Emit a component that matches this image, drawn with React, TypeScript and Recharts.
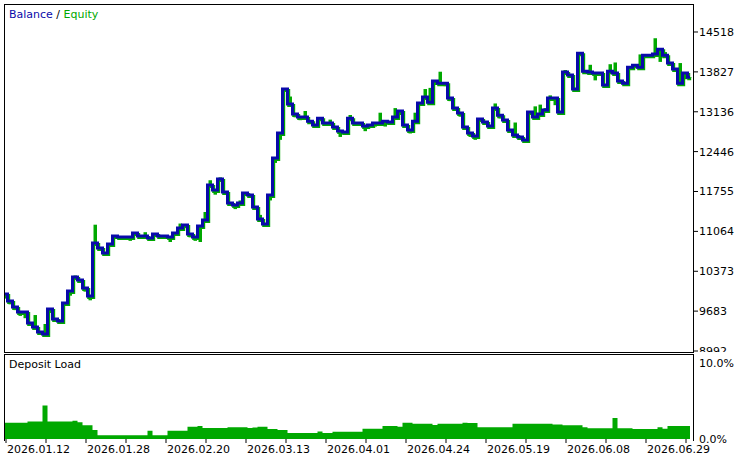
import React from 'react';
import { ComposedChart, Line, Bar, XAxis, YAxis, AreaChart, Area } from 'recharts';

const balance = [
  9979, 9858, 9754, 9667, 9667, 9477, 9408, 9321, 9286, 9719,
  9546, 9511, 9823, 10031, 10273, 10221, 10083, 9944, 10862, 10775,
  10689, 10845, 10983, 10966, 10966, 10966, 11035, 10983, 10983, 10949,
  11018, 10983, 10983, 10966, 11035, 11122, 11174, 11018, 10966, 11156,
  11260, 11866, 11780, 11970, 11745, 11555, 11520, 11555, 11728, 11693,
  11485, 11278, 11191, 11693, 12334, 12767, 13529, 13269, 13096, 13044,
  13044, 12974, 12905, 13026, 12940, 12940, 12871, 12801, 12784, 13026,
  12940, 12940, 12888, 12905, 12940, 12940, 12974, 12957, 13044, 13148,
  12905, 12819, 12974, 13286, 13390, 13303, 13667, 13632, 13632, 13373,
  13200, 13113, 12871, 12767, 12715, 13009, 12957, 12888, 13200, 13078,
  12992, 12819, 12732, 12697, 12645, 13130, 13044, 13096, 13165, 13373,
  13373, 13130, 13823, 13771, 13529, 14152, 13840, 13823, 13806, 13806,
  13598, 13840, 13806, 13667, 13632, 13909, 13944, 13909, 14117, 14117,
  14135, 14221, 14117, 13979, 13875, 13632, 13806, 13736,
];

const equity = [
  9900, 9800, 9700, 9600, 9560, 9440, 9615, 9290, 9460, 9650,
  9500, 9470, 9780, 9950, 10300, 10180, 10020, 9870, 11180, 10740,
  10640, 10800, 10960, 10966, 10940, 10900, 11000, 10960, 11050, 10900,
  11000, 11000, 10960, 10880, 11010, 11200, 11120, 10960, 10900, 10880,
  11400, 11950, 11700, 12000, 11700, 11520, 11450, 11600, 11700, 11650,
  11450, 11350, 11170, 11600, 12250, 12650, 13500, 13400, 13040, 12990,
  13150, 12960, 12880, 12990, 12900, 13000, 12850, 12700, 12760, 13080,
  12920, 12900, 12800, 12880, 12880, 13120, 12880, 12930, 13200, 13080,
  12870, 12760, 13120, 13250, 13530, 13550, 13600, 13830, 13580, 13320,
  13180, 13050, 12840, 12700, 12650, 12980, 12920, 12860, 13280, 13020,
  12960, 12780, 12950, 12680, 12620, 13100, 13230, 13260, 13200, 13420,
  13250, 13080, 13860, 13730, 13500, 14170, 13800, 13950, 13680, 13770,
  13560, 13960, 13990, 13640, 13610, 13880, 13900, 14130, 14080, 14100,
  14410, 14000, 14170, 13950, 13840, 13980, 13700, 13730,
];

const depositLoad = [
  2.15, 2.15, 2.15, 2.15, 2.15, 2.3, 2.3, 2.3, 4.4, 2.3,
  2.3, 2.3, 2.3, 2.3, 2.4, 2.2, 1.8, 1.8, 1.2, 0.5,
  0.5, 0.5, 0.5, 0.5, 0.5, 0.5, 0.5, 0.5, 0.5, 1.1,
  0.5, 0.5, 0.5, 1.1, 1.1, 1.1, 1.1, 1.6, 1.6, 1.7,
  1.45, 1.45, 1.45, 1.45, 1.45, 1.55, 1.55, 1.55, 1.55, 1.45,
  1.5, 1.6, 1.6, 1.3, 1.3, 1.2, 1.2, 0.8, 0.8, 0.8,
  0.8, 0.8, 0.8, 1.0, 0.8, 0.8, 0.95, 0.95, 0.95, 0.95,
  0.95, 0.95, 1.35, 1.35, 1.35, 1.35, 1.7, 1.7, 1.7, 1.6,
  2.15, 2.15, 2.0, 2.0, 2.0, 2.0, 1.85, 2.0, 2.0, 2.0,
  2.0, 2.0, 2.15, 2.1, 2.1, 1.55, 1.55, 1.55, 1.55, 1.55,
  1.55, 1.55, 2.0, 2.0, 2.0, 2.0, 2.0, 2.0, 2.0, 2.0,
  1.9, 1.9, 1.8, 1.8, 1.8, 1.8, 1.55, 1.4, 1.4, 1.4,
  1.4, 1.4, 2.75, 1.4, 1.4, 1.4, 1.3, 1.3, 1.3, 1.3,
  1.3, 1.55, 1.35, 1.7, 1.7, 1.7, 1.7, 1.7,
];

const yTicks = [8992, 9683, 10373, 11064, 11755, 12446, 13136, 13827, 14518];
const dateLabels = [
  '2026.01.12', '2026.01.28', '2026.02.20', '2026.03.13', '2026.04.01',
  '2026.04.24', '2026.05.19', '2026.06.08', '2026.06.29',
];
const loadTicks = [0, 10];

const BLUE = '#0a0aaa';
const GREEN = '#00a800';
const FONT = 'DejaVu Sans, Tahoma, sans-serif';

const mainData = balance.map((b, i) => ({
  i,
  balance: b,
  equity: equity[i],
  equityRange: [Math.min(b, equity[i]), Math.max(b, equity[i])],
}));
const loadData = depositLoad.map((d, i) => ({ i, load: d }));
const xTicks = Array.from({ length: 18 }, (_, k) => 0.2 + 8 * k);
const X_DOMAIN: [number, number] = [-0.2, 137.8];

const DateTick = (props: any) => {
  const { x, y, index } = props;
  const label = index % 2 === 0 ? dateLabels[index / 2] : '';
  if (!label) return null;
  return (
    <text x={x + 1} y={y} dy="0.71em" textAnchor="start" fontSize={11} fontFamily={FONT} fill="#000">
      {label}
    </text>
  );
};

export default function App() {
  return (
    <div style={{ position: 'absolute', left: 0, top: 0, width: 748, height: 459, background: '#fff', overflow: 'hidden', fontFamily: FONT }}>
      <style>{`.eq-follow { transform: translate(1.2px, 1.5px); }`}</style>
      <div style={{ position: 'absolute', left: 0, top: 0 }}>
        <ComposedChart width={748} height={352} data={mainData} margin={{ top: 4, right: 4, left: 4, bottom: 1 }}>
          <XAxis dataKey="i" type="number" domain={X_DOMAIN} allowDataOverflow hide />
          <YAxis
            orientation="right"
            width={50}
            domain={[8992, 15003]}
            allowDataOverflow
            ticks={yTicks}
            interval={0}
            axisLine={false}
            tickSize={4}
            tickMargin={1}
            tickLine={{ stroke: '#000' }}
            tick={{ fill: '#000', fontSize: 11, fontFamily: FONT }}
          />
          <Line className="eq-follow" dataKey="balance" type="step" stroke={GREEN} strokeWidth={3} dot={false} isAnimationActive={false} />
          <Bar dataKey="equityRange" fill={GREEN} barSize={3.5} isAnimationActive={false} />
          <Line dataKey="balance" type="step" stroke={BLUE} strokeWidth={3} dot={false} isAnimationActive={false} />
        </ComposedChart>
      </div>
      <div style={{ position: 'absolute', left: 4, top: 4, width: 690, height: 349, border: '1px solid #000', boxSizing: 'border-box', pointerEvents: 'none' }} />
      <div style={{ position: 'absolute', left: 9, top: 8, fontSize: 11, lineHeight: '14px', whiteSpace: 'nowrap' }}>
        <span style={{ color: BLUE }}>Balance</span>
        <span style={{ color: '#000' }}> / </span>
        <span style={{ color: GREEN }}>Equity</span>
      </div>

      <div style={{ position: 'absolute', left: 0, top: 353, width: 748, height: 106, background: '#fff' }}>
        <div style={{ position: 'absolute', left: 0, top: 1 }}>
          <AreaChart width={748} height={105} data={loadData} margin={{ top: 0, right: 4, left: 4, bottom: 0 }}>
            <XAxis
              dataKey="i"
              type="number"
              domain={X_DOMAIN}
              allowDataOverflow
              ticks={xTicks}
              interval={0}
              height={20}
              axisLine={false}
              tickSize={4}
              tickMargin={2}
              tickLine={{ stroke: '#000' }}
              tick={<DateTick />}
            />
            <YAxis
              orientation="right"
              width={50}
              domain={[0, 11.18]}
              allowDataOverflow
              ticks={loadTicks}
              interval={0}
              axisLine={false}
              tickLine={false}
              tickSize={4}
              tickMargin={1}
              tickFormatter={(v: number) => v.toFixed(1) + '%'}
              tick={{ fill: '#000', fontSize: 11, fontFamily: FONT }}
            />
            <Area dataKey="load" type="step" stroke="none" fill={GREEN} fillOpacity={1} isAnimationActive={false} />
          </AreaChart>
        </div>
        <div style={{ position: 'absolute', left: 4, top: 1, width: 690, height: 87, borderLeft: '1px solid #000', borderTop: '1px solid #000', borderRight: '1px solid #000', boxSizing: 'border-box', pointerEvents: 'none' }} />
        <div style={{ position: 'absolute', left: 9, top: 5, fontSize: 11, lineHeight: '14px', color: '#000', whiteSpace: 'nowrap' }}>Deposit Load</div>
      </div>
    </div>
  );
}
